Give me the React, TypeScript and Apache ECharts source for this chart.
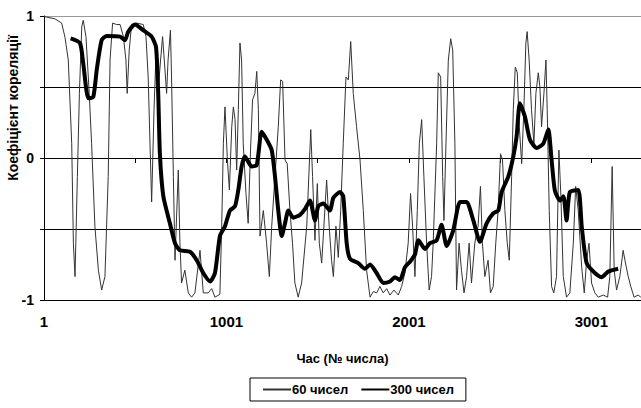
import React, { useEffect, useRef } from "react";
import * as echarts from "echarts";

const xTicks = [1, 1001, 2001, 3001];

const x60 = [1, 6, 61, 98, 116, 134, 153, 162, 171, 184, 195, 208, 216, 231, 249, 262, 280, 299, 317, 335, 353, 363, 377, 399, 418, 436, 450, 457, 468, 481, 509, 545, 560, 572, 582, 591, 604, 615, 627, 640, 651, 664, 673, 681, 694, 700, 710, 719, 737, 746, 755, 773, 792, 810, 828, 856, 874, 901, 920, 938, 965, 975, 984, 993, 1006, 1017, 1030, 1039, 1048, 1057, 1066, 1075, 1084, 1093, 1108, 1120, 1133, 1144, 1157, 1167, 1176, 1185, 1203, 1221, 1236, 1249, 1267, 1285, 1298, 1309, 1322, 1334, 1349, 1363, 1376, 1394, 1413, 1441, 1463, 1473, 1486, 1499, 1510, 1523, 1535, 1550, 1564, 1577, 1587, 1601, 1614, 1627, 1641, 1656, 1669, 1682, 1696, 1714, 1733, 1751, 1769, 1788, 1806, 1824, 1842, 1860, 1879, 1897, 1919, 1943, 1961, 1979, 1997, 2010, 2021, 2034, 2047, 2058, 2071, 2083, 2098, 2112, 2125, 2134, 2153, 2162, 2175, 2186, 2193, 2204, 2217, 2230, 2241, 2253, 2262, 2276, 2289, 2303, 2317, 2331, 2344, 2362, 2380, 2393, 2404, 2417, 2435, 2448, 2463, 2477, 2490, 2503, 2514, 2527, 2540, 2551, 2564, 2573, 2584, 2595, 2606, 2619, 2631, 2642, 2649, 2660, 2673, 2686, 2697, 2710, 2719, 2728, 2741, 2752, 2759, 2770, 2783, 2795, 2810, 2823, 2834, 2847, 2865, 2883, 2902, 2915, 2929, 2948, 2962, 2975, 2988, 3002, 3020, 3039, 3066, 3090, 3102, 3115, 3126, 3139, 3157, 3175, 3188, 3203, 3217, 3235, 3257, 3272];
const y60 = [1.0, 0.995, 0.98, 0.95, 0.85, 0.69, 0.1, -0.6, -0.835, -0.13, 0.455, 0.925, 0.97, 0.855, 0.455, 0.1, -0.48, -0.79, -0.93, -0.835, -0.13, 0.69, 0.95, 0.94, 0.94, 0.855, 0.69, 0.455, 0.76, 0.94, 0.95, 0.94, 0.855, 0.57, 0.1, -0.31, 0.34, 0.74, 0.48, 0.69, 0.855, 0.62, 0.455, 0.69, 0.9, 0.57, -0.13, -0.72, -0.085, -0.6, -0.88, -0.79, -0.95, -0.98, -0.95, -0.65, -0.95, -0.95, -0.92, -0.98, -0.96, -0.48, 0.1, 0.36, -0.014, -0.225, 0.22, 0.36, 0.27, -0.085, 0.34, 0.81, 0.69, 0.1, -0.25, -0.46, 0.056, 0.41, 0.455, 0.61, 0.34, -0.55, -0.37, -0.6, -0.835, -0.48, -0.13, 0.22, 0.55, 0.54, -0.014, -0.04, -0.37, -0.6, -0.88, -0.98, -0.88, -0.48, 0.2, -0.13, -0.58, -0.18, -0.6, -0.74, -0.48, -0.155, -0.48, -0.72, -0.835, -0.48, -0.7, -0.37, 0.1, 0.57, 0.55, 0.82, 0.455, 0.22, -0.014, -0.37, -0.79, -0.98, -0.94, -0.95, -0.905, -0.95, -0.92, -0.965, -0.93, -0.965, -0.905, -0.81, -0.6, -0.25, -0.48, -0.835, -0.37, 0.1, 0.27, -0.13, -0.6, -0.93, -0.835, -0.6, 0.1, 0.6, 0.57, -0.13, -0.44, 0.1, 0.69, 0.84, 0.76, 0.1, -0.93, -0.6, -0.79, -0.95, -0.835, -0.6, -0.88, -0.6, -0.48, -0.2, -0.6, -0.835, -0.72, -0.95, -0.905, -0.6, -0.37, 0.03, -0.014, -0.37, -0.6, -0.72, -0.13, 0.34, 0.64, 0.6, 0.22, -0.04, 0.34, 0.81, 0.89, 0.69, 0.34, 0.1, 0.455, 0.6, 0.5, 0.22, 0.455, 0.69, 0.34, -0.37, -0.905, -0.95, -0.835, 0.056, -0.27, -0.835, -0.98, -0.95, -0.6, -0.2, -0.37, -0.77, -0.95, -0.72, -0.6, -0.88, -0.95, -0.98, -0.965, -0.98, -0.835, -0.06, -0.79, -0.93, -0.835, -0.65, -0.74, -0.835, -0.905, -0.98, -0.965, -0.98];

const x300 = [147, 198, 216, 244, 271, 290, 317, 345, 418, 445, 463, 500, 545, 591, 615, 627, 636, 655, 691, 719, 746, 801, 838, 874, 911, 938, 965, 993, 1020, 1048, 1066, 1084, 1102, 1139, 1167, 1194, 1221, 1249, 1267, 1285, 1304, 1322, 1340, 1367, 1404, 1431, 1459, 1486, 1504, 1532, 1568, 1587, 1623, 1641, 1660, 1678, 1723, 1760, 1788, 1824, 1860, 1897, 1924, 1952, 1979, 2007, 2034, 2053, 2089, 2116, 2153, 2180, 2208, 2244, 2281, 2317, 2354, 2390, 2427, 2463, 2491, 2509, 2546, 2573, 2591, 2609, 2637, 2664, 2701, 2737, 2765, 2783, 2801, 2829, 2848, 2865, 2883, 2929, 2948, 2975, 3020, 3057, 3093, 3148];
const y300 = [0.843, 0.81, 0.667, 0.42, 0.43, 0.62, 0.83, 0.86, 0.855, 0.83, 0.89, 0.94, 0.9, 0.855, 0.78, 0.455, 0.035, -0.27, -0.46, -0.6, -0.65, -0.66, -0.72, -0.81, -0.87, -0.81, -0.55, -0.48, -0.37, -0.34, -0.225, -0.06, 0.01, -0.06, -0.05, 0.185, 0.13, 0.056, -0.13, -0.37, -0.55, -0.46, -0.37, -0.42, -0.4, -0.36, -0.3, -0.44, -0.34, -0.32, -0.37, -0.28, -0.24, -0.27, -0.6, -0.71, -0.74, -0.78, -0.75, -0.81, -0.88, -0.87, -0.84, -0.86, -0.77, -0.73, -0.68, -0.58, -0.64, -0.6, -0.58, -0.47, -0.62, -0.51, -0.31, -0.31, -0.44, -0.59, -0.46, -0.39, -0.37, -0.24, -0.13, 0.01, 0.15, 0.385, 0.29, 0.13, 0.07, 0.1, 0.2, -0.014, -0.23, -0.3, -0.27, -0.44, -0.24, -0.225, -0.48, -0.74, -0.81, -0.84, -0.8, -0.78];

const series60Name = "60 чисел";
const series300Name = "300 чисел";
const xTitle = "Час (№ числа)";
const yTitle = "Коефіцієнт кореляції";

const FONT = "'Liberation Sans', Arial, sans-serif";

export default function App() {
  const ref = useRef<HTMLDivElement>(null);
  useEffect(() => {
    if (!ref.current) return;
    const chart = echarts.init(ref.current, undefined, { renderer: "svg" });
    const d60 = x60.map((x, i) => [x, y60[i]]);
    const d300 = x300.map((x, i) => [x, y300[i]]);
    chart.setOption({
      animation: false,
      backgroundColor: "#fff",
      textStyle: { fontFamily: FONT },
      grid: { left: 44, right: 0, top: 16, bottom: 108 },
      legend: {
        left: 250,
        top: 378,
        padding: [5, 12, 5, 12],
        itemGap: 12,
        itemWidth: 28,
        itemHeight: 10,
        borderColor: "#000",
        borderWidth: 1,
        borderRadius: 0,
        itemStyle: { opacity: 0 },
        textStyle: { fontFamily: FONT, fontWeight: "bold", fontSize: 13, color: "#000", padding: [0, 0, 0, -4] },
        data: [series60Name, series300Name],
      },
      xAxis: {
        type: "value",
        min: 1,
        max: 3273,
        interval: 500,
        name: xTitle,
        nameLocation: "middle",
        nameGap: 52,
        nameTextStyle: { fontFamily: FONT, fontWeight: "bold", fontSize: 13, color: "#000" },
        axisLine: { show: true, lineStyle: { color: "#000", width: 1 } },
        axisTick: { show: true, length: 5, lineStyle: { color: "#000" } },
        splitLine: { show: false },
        axisLabel: {
          margin: 14,
          fontFamily: FONT,
          fontWeight: "bold",
          fontSize: 15,
          color: "#000",
          showMaxLabel: false,
          formatter: (v: number) => (xTicks.indexOf(v) >= 0 ? String(v) : ""),
        },
      },
      yAxis: {
        type: "value",
        min: -1,
        max: 1,
        interval: 0.5,
        axisLine: { show: true, lineStyle: { color: "#000", width: 1 } },
        axisTick: { show: true, length: 4, lineStyle: { color: "#000" } },
        splitLine: { show: true, lineStyle: { color: ["#000", "#000", "#000", "#000", "#999"], width: 1 } },
        axisLabel: {
          margin: 10,
          fontFamily: FONT,
          fontWeight: "bold",
          fontSize: 14,
          color: "#000",
          formatter: (v: number) => (v === 1 ? "1" : v === 0 ? "0" : v === -1 ? "-1" : ""),
        },
      },
      graphic: [
        {
          type: "text",
          x: 13,
          y: 108,
          rotation: Math.PI / 2,
          style: {
            text: yTitle,
            fontFamily: FONT,
            fontWeight: "bold",
            fontSize: 14,
            fill: "#000",
            textAlign: "center",
            textVerticalAlign: "middle",
          },
        },
      ],
      series: [
        {
          name: series60Name,
          type: "line",
          data: d60,
          symbol: "none",
          lineStyle: { color: "#333", width: 1 },
          itemStyle: { color: "#333" },
          z: 2,
        },
        {
          name: series300Name,
          type: "line",
          data: d300,
          symbol: "none",
          smooth: 0.2,
          lineStyle: { color: "#000", width: 4 },
          itemStyle: { color: "#000" },
          z: 3,
        },
      ],
    });
    return () => chart.dispose();
  }, []);
  return <div ref={ref} style={{ position: "fixed", left: 0, top: 0, width: 641, height: 408 }} />;
}
